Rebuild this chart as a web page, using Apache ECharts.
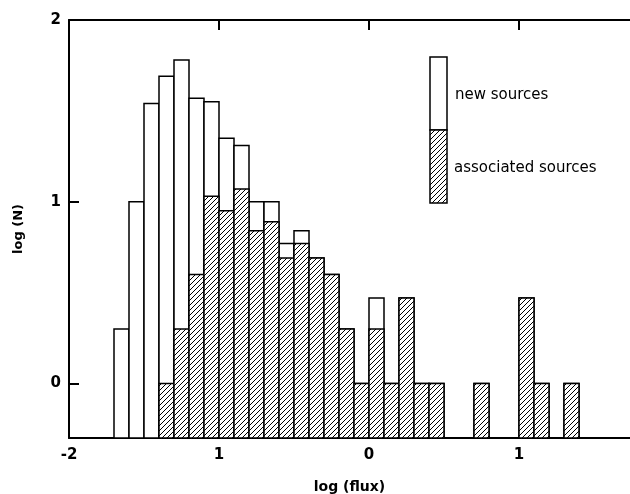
<!DOCTYPE html>
<html>
<head>
<meta charset="utf-8">
<script src="https://cdn.jsdelivr.net/npm/echarts@6/dist/echarts.min.js"></script>
<style>
  html, body { margin: 0; padding: 0; background: #fff; }
  #chart { width: 630px; height: 494px; }
</style>
</head>
<body>
<div id="chart"></div>
<script>
// left edge of each log(flux) bin, bins are 0.1 wide
const binLeft = [-1.7, -1.6, -1.5, -1.4, -1.3, -1.2, -1.1, -1.0, -0.9, -0.8, -0.7, -0.6, -0.5,
  -0.4, -0.3, -0.2, -0.1, 0.0, 0.1, 0.2, 0.3, 0.4, 0.7, 1.0, 1.1, 1.3]
const binWidth = 0.1
// log(N) of all sources (new + associated)
const totalLogN = [0.30, 1.00, 1.54, 1.69, 1.78, 1.57, 1.55, 1.35, 1.31, 1.00, 1.00, 0.77, 0.84,
  0.69, 0.60, 0.30, 0.00, 0.47, 0.00, 0.47, 0.00, 0.00, 0.00, 0.47, 0.00, 0.00]
// log(N) of associated sources (null = none)
const assocLogN = [null, null, null, 0.00, 0.30, 0.60, 1.03, 0.95, 1.07, 0.84, 0.89, 0.69, 0.77,
  0.69, 0.60, 0.30, 0.00, 0.30, 0.00, 0.47, 0.00, 0.00, 0.00, 0.47, 0.00, 0.00]

const xTickValues = [-2, -1, 0, 1]
const xTickLabels = ['-2', '1', '0', '1']
const yTickValues = [0, 1, 2]
const yTickLabels = ['0', '1', '2']

const xMin = -2, xMax = 1.74
const yMin = -0.3, yMax = 2

const font = 'DejaVu Sans'

// diagonal hatch pattern
function makeHatch() {
  const c = document.createElement('canvas')
  c.width = 5
  c.height = 5
  const g = c.getContext('2d')
  g.fillStyle = '#fff'
  g.fillRect(0, 0, 5, 5)
  g.strokeStyle = '#000'
  g.lineWidth = 1
  g.beginPath()
  g.moveTo(0, 5); g.lineTo(5, 0)
  g.moveTo(-1, 1); g.lineTo(1, -1)
  g.moveTo(4, 6); g.lineTo(6, 4)
  g.stroke()
  return { image: c, repeat: 'repeat' }
}
const hatch = makeHatch()

function binRenderer(fill) {
  return function (params, api) {
    const x0 = api.value(0)
    const v = api.value(1)
    const p0 = api.coord([x0, yMin])
    const p1 = api.coord([x0 + binWidth, v])
    return {
      type: 'rect',
      shape: { x: p0[0], y: p1[1], width: p1[0] - p0[0], height: p0[1] - p1[1] },
      style: { fill: fill, stroke: '#000', lineWidth: 1.5 }
    }
  }
}

const totalData = binLeft.map((x, i) => [x, totalLogN[i]])
const assocData = binLeft.map((x, i) => [x, assocLogN[i]]).filter(d => d[1] !== null)

const chart = echarts.init(document.getElementById('chart'))
chart.setOption({
  backgroundColor: '#fff',
  animation: false,
  grid: { left: 69, right: 0, top: 20, bottom: 56, containLabel: false, outerBoundsMode: 'none' },
  xAxis: [
    {
      type: 'value', position: 'bottom', min: xMin, max: xMax,
      name: 'log (flux)', nameLocation: 'middle', nameGap: 42,
      nameTextStyle: { fontFamily: font, fontSize: 14, fontWeight: 'bold', color: '#000' },
      axisLine: { show: true, onZero: false, lineStyle: { color: '#000', width: 2 } },
      axisTick: { show: false },
      splitLine: { show: false },
      axisLabel: {
        customValues: xTickValues, margin: 10,
        fontFamily: font, fontSize: 15, fontWeight: 'bold', color: '#000',
        formatter: v => xTickLabels[xTickValues.indexOf(v)] || ''
      }
    },
    {
      type: 'value', position: 'top', min: xMin, max: xMax,
      axisLine: { show: true, onZero: false, lineStyle: { color: '#000', width: 2 } },
      axisTick: { show: true, inside: true, length: 10, customValues: [-1, 0, 1], lineStyle: { color: '#000', width: 2 } },
      axisLabel: { show: false },
      splitLine: { show: false }
    }
  ],
  yAxis: {
    type: 'value', min: yMin, max: yMax,
    name: 'log (N)', nameLocation: 'middle', nameGap: 44,
    nameTextStyle: { fontFamily: font, fontSize: 13, fontWeight: 'bold', color: '#000' },
    axisLine: { show: true, onZero: false, lineStyle: { color: '#000', width: 2 } },
    axisTick: { show: true, inside: true, length: 10, customValues: [0, 1], lineStyle: { color: '#000', width: 2 } },
    splitLine: { show: false },
    axisLabel: {
      customValues: yTickValues, margin: 8,
      fontFamily: font, fontSize: 15, fontWeight: 'bold', color: '#000',
      formatter: v => yTickLabels[yTickValues.indexOf(v)] || ''
    }
  },
  graphic: [
    { type: 'rect', shape: { x: 430, y: 57, width: 17, height: 73 }, style: { fill: '#fff', stroke: '#000', lineWidth: 1.5 } },
    { type: 'rect', shape: { x: 430, y: 130, width: 17, height: 73 }, style: { fill: hatch, stroke: '#000', lineWidth: 1.5 } },
    { type: 'text', x: 455, y: 95, style: { text: 'new sources', fontFamily: font, fontSize: 15, fill: '#000', verticalAlign: 'middle' } },
    { type: 'text', x: 454, y: 168, style: { text: 'associated sources', fontFamily: font, fontSize: 15, fill: '#000', verticalAlign: 'middle' } }
  ],
  series: [
    { type: 'custom', name: 'new sources', renderItem: binRenderer('#fff'), data: totalData, clip: true },
    { type: 'custom', name: 'associated sources', renderItem: binRenderer(hatch), data: assocData, clip: true }
  ]
})
</script>
</body>
</html>
